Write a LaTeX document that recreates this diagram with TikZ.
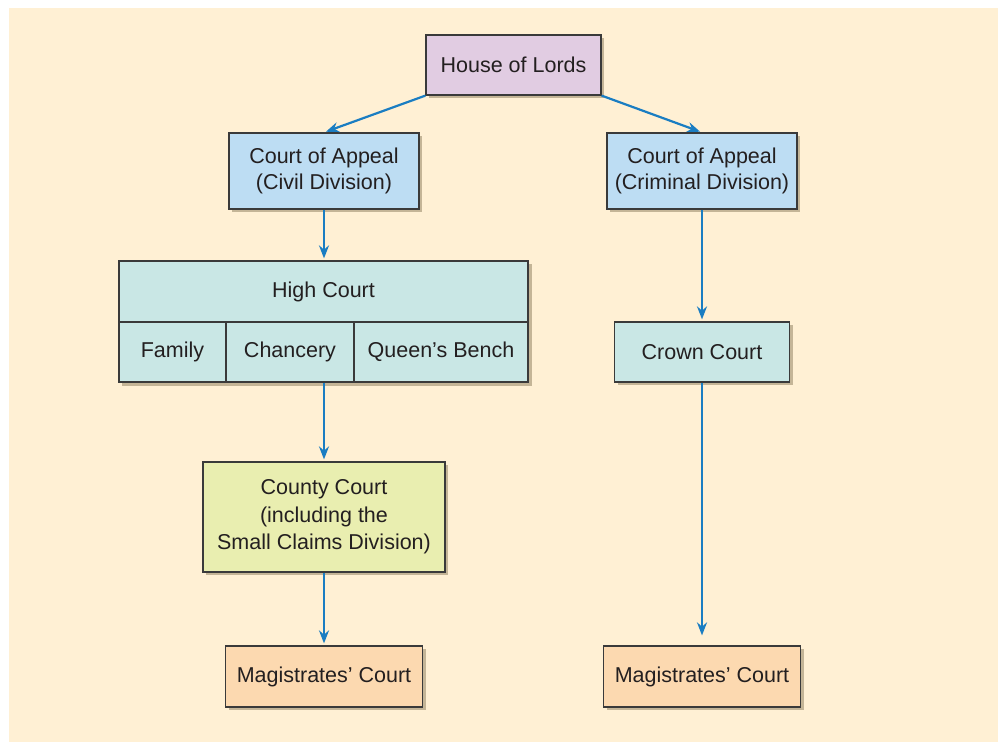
\documentclass[tikz,border=0pt]{standalone}
\usepackage{fontspec}
\setmainfont{Liberation Sans}
\usetikzlibrary{arrows.meta,shadows}
\definecolor{bgc}{HTML}{FFF0D4}
\definecolor{lordsc}{HTML}{E1CCE2}
\definecolor{appealc}{HTML}{BDDDF3}
\definecolor{highc}{HTML}{C9E7E5}
\definecolor{countyc}{HTML}{E9EEB0}
\definecolor{magc}{HTML}{FCD9B0}
\definecolor{shadc}{HTML}{C4B597}
\definecolor{arrc}{HTML}{1A7DC2}
\definecolor{txtc}{HTML}{231F20}
\definecolor{edgec}{HTML}{3A3A3A}
\tikzset{
  box/.style={draw=edgec, line width=1.2pt, text=txtc, align=center, inner sep=0pt,
    font=\fontsize{21.5}{26.5}\selectfont,
    drop shadow={shadow xshift=3pt, shadow yshift=-3pt, fill=shadc, opacity=1}},
  cell/.style={draw=edgec, line width=1.2pt, text=txtc, align=center, inner sep=0pt,
    fill=highc, font=\fontsize{21.5}{26.5}\selectfont},
  link/.style={draw=arrc, line width=2.2pt, -{Stealth[length=13pt,width=10pt]}}
}
\begin{document}
\begin{tikzpicture}[x=1pt,y=-1pt]
\useasboundingbox (0,0) rectangle (998,742);
\fill[bgc] (9,8) rectangle (998,742);

\node[box, fill=lordsc, minimum width=175pt, minimum height=60pt] (hol) at (513.5,65) {House of Lords};
\node[box, fill=appealc, minimum width=190pt, minimum height=76pt] (civ) at (324,171) {Court of Appeal\\(Civil Division)};
\node[box, fill=appealc, minimum width=190pt, minimum height=76pt] (crim) at (702,171) {Court of Appeal\\(Criminal Division)};

% High Court block
\fill[shadc] (122,264) rectangle (531.5,385.5);
\node[cell, minimum width=409pt, minimum height=61pt] (hc) at (323.5,291.5) {High Court};
\node[cell, minimum width=107pt, minimum height=60pt] (fam) at (172.5,352) {Family};
\node[cell, minimum width=128pt, minimum height=60pt] (chan) at (290,352) {Chancery};
\node[cell, minimum width=174pt, minimum height=60pt] (qb) at (441,352) {Queen’s Bench};

\node[box, fill=highc, minimum width=175pt, minimum height=60pt] (crown) at (702,352) {Crown Court};
\node[box, fill=countyc, minimum width=242pt, minimum height=110pt, font=\fontsize{21.5}{27.5}\selectfont] (county) at (324,517) {County Court\\(including the\\Small Claims Division)};
\node[box, fill=magc, minimum width=197pt, minimum height=61pt] (magl) at (324,676.5) {Magistrates’ Court};
\node[box, fill=magc, minimum width=197pt, minimum height=61pt] (magr) at (702,676.5) {Magistrates’ Court};

\draw[link, shorten >=2pt] (hol.south west) -- (civ.north);
\draw[link, shorten >=2pt] (hol.south east) -- (crim.north);
\draw[link, shorten >=2pt] (civ.south) -- (hc.north -| civ.south);
\draw[link, shorten >=2pt] (crim.south) -- (crown.north);
\draw[link, shorten >=2pt] (chan.south -| civ.south) -- (county.north);
\draw[link, shorten >=10pt] (crown.south) -- (magr.north);
\draw[link, shorten >=2pt] (county.south) -- (magl.north);
\end{tikzpicture}
\end{document}
